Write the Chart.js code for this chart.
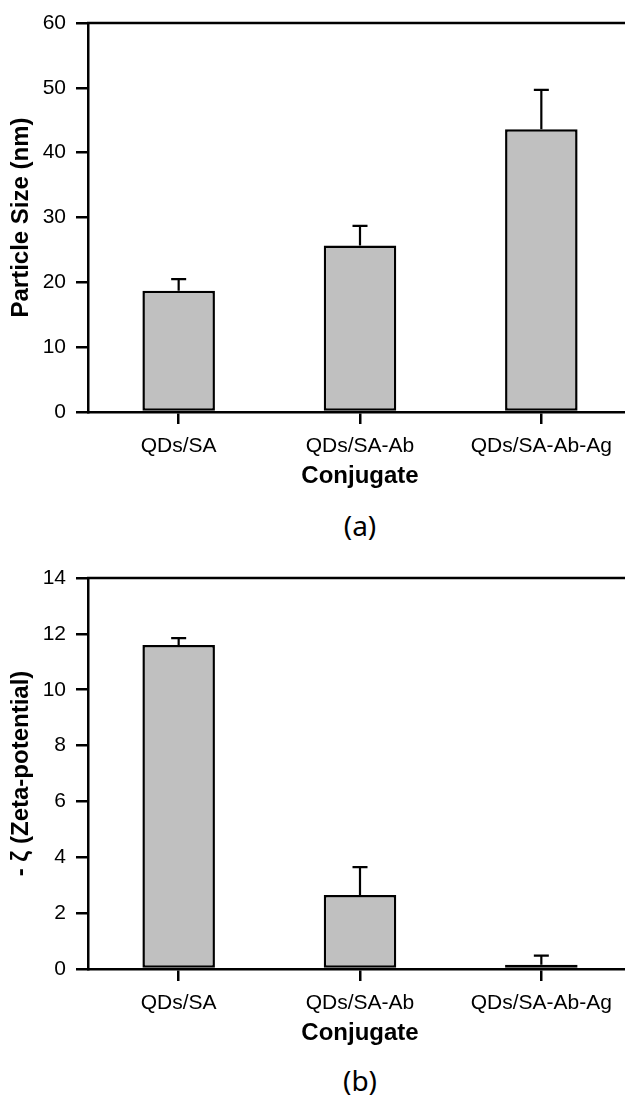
<!DOCTYPE html>
<html>
<head>
<meta charset="utf-8">
<script src="https://cdn.jsdelivr.net/npm/chart.js@4.4.1/dist/chart.umd.min.js"></script>
<style>
  html, body { margin: 0; padding: 0; background: #fff; overflow: hidden; }
  #page { position: relative; width: 625px; height: 1097px; overflow: hidden; }
  #page canvas { position: absolute; left: 0; }
  .panel { position: absolute; left: 0; width: 720px; text-align: center;
           font-family: "Noto Sans", sans-serif; font-size: 28px; line-height: 40px; color: #000; }
</style>
</head>
<body>
<div id="page">
  <canvas id="sizeChart" width="645" height="500" style="top:0"></canvas>
  <div class="panel" style="top:505px">(a)</div>
  <canvas id="zetaChart" width="645" height="502" style="top:555px"></canvas>
  <div class="panel" style="top:1060px">(b)</div>
</div>
<script>
// =======================
// Data
// =======================
const categories = ["QDs/SA", "QDs/SA-Ab", "QDs/SA-Ab-Ag"];

// (a) particle size, nm
const sizeValues = [18.7, 25.7, 43.6];
const sizeErrors = [1.8, 3.0, 6.1];

// (b) zeta potential (negative)
const zetaValues = [11.6, 2.65, 0.15];
const zetaErrors = [0.25, 1.0, 0.33];

// =======================
// Error bars (upper only) + top frame line
// =======================
const errorBars = {
  id: "errorBars",
  afterDatasetsDraw(chart, args, opts) {
    const ctx = chart.ctx;
    const y = chart.scales.y;
    const vals = chart.data.datasets[0].data;
    const meta = chart.getDatasetMeta(0);
    ctx.save();
    ctx.strokeStyle = "#000";
    ctx.lineWidth = 2.2;
    meta.data.forEach((bar, i) => {
      const top = y.getPixelForValue(vals[i]);
      const end = y.getPixelForValue(vals[i] + opts.errors[i]);
      ctx.beginPath();
      ctx.moveTo(bar.x, top);
      ctx.lineTo(bar.x, end);
      ctx.moveTo(bar.x - 7.5, end);
      ctx.lineTo(bar.x + 7.5, end);
      ctx.stroke();
    });
    const a = chart.chartArea;
    ctx.lineWidth = 2.5;
    ctx.beginPath();
    ctx.moveTo(a.left - 1, a.top);
    ctx.lineTo(a.right, a.top);
    ctx.stroke();
    ctx.restore();
  }
};

// =======================
// Chart builder
// =======================
function makeChart(id, values, errors, yMax, yStep, yTitle) {
  const axisFont = { family: "'Liberation Sans', Arial, sans-serif", size: 21 };
  const titleFont = { family: "'Liberation Sans', Arial, sans-serif", size: 24, weight: "bold", lineHeight: 1.25 };
  return new Chart(document.getElementById(id), {
    type: "bar",
    data: {
      labels: categories,
      datasets: [{
        data: values,
        backgroundColor: "#c0c0c0",
        borderColor: "#000",
        borderWidth: 2.5,
        borderSkipped: false,
        barPercentage: 0.4,
        categoryPercentage: 1.0
      }]
    },
    options: {
      responsive: false,
      animation: false,
      events: [],
      layout: { padding: { left: 0, right: 13, top: 23, bottom: 9 } },
      plugins: {
        legend: { display: false },
        tooltip: { enabled: false },
        errorBars: { errors: errors }
      },
      scales: {
        x: {
          afterFit: s => { s.height = 79; },
          grid: { drawOnChartArea: false, offset: false, color: "#000", lineWidth: 2.5, tickLength: 12 },
          border: { color: "#000", width: 2.5 },
          ticks: { color: "#000", font: axisFont, padding: 10, maxRotation: 0, autoSkip: false },
          title: {
            display: true, text: "Conjugate", color: "#000",
            font: titleFont,
            padding: { top: 0, bottom: 0 }
          }
        },
        y: {
          min: 0, max: yMax,
          afterFit: s => { s.width = 88; },
          grid: { drawOnChartArea: false, color: "#000", lineWidth: 2.5, tickLength: 12 },
          border: { color: "#000", width: 2.5 },
          ticks: { stepSize: yStep, color: "#000", font: axisFont, padding: 10 },
          title: {
            display: true, text: yTitle, color: "#000",
            font: titleFont,
            padding: { top: 6, bottom: 0 }
          }
        }
      }
    },
    plugins: [errorBars]
  });
}

makeChart("sizeChart", sizeValues, sizeErrors, 60, 10, "Particle Size (nm)");
makeChart("zetaChart", zetaValues, zetaErrors, 14, 2, "- ζ (Zeta-potential)");
</script>
</body>
</html>
